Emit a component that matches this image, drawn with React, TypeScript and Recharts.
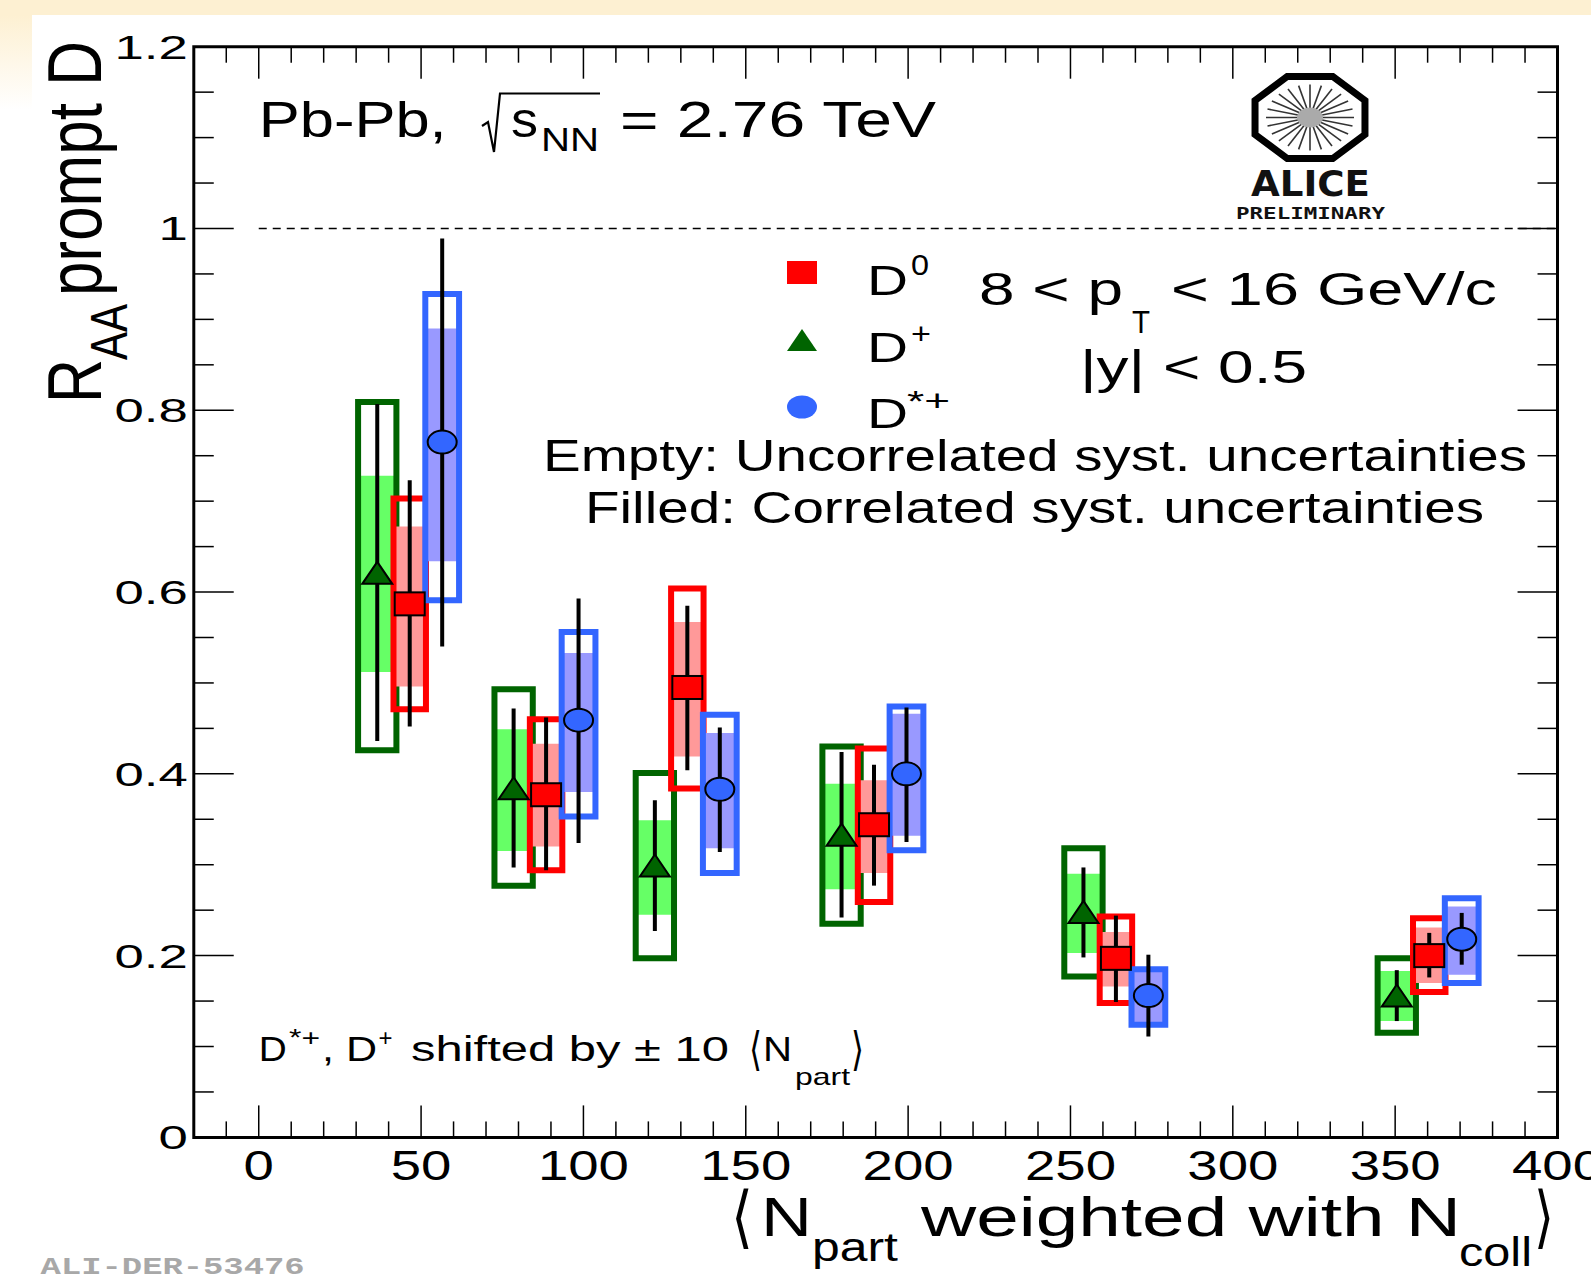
import React from 'react';
import { ComposedChart, Scatter, XAxis, YAxis, ReferenceArea, ReferenceLine, ErrorBar } from 'recharts';

// ---------------- data ----------------
const xDomain = [-20, 400];
const yDomain = [0, 1.2];
const xTicksMajor = [0, 50, 100, 150, 200, 250, 300, 350, 400];
const xTicksMinor = [-10, 10, 20, 30, 40, 60, 70, 80, 90, 110, 120, 130, 140, 160, 170, 180, 190, 210, 220, 230, 240, 260, 270, 280, 290, 310, 320, 330, 340, 360, 370, 380, 390];
const yTicksMajor = [0, 0.2, 0.4, 0.6, 0.8, 1, 1.2];
const yTicksMinor = [0.05, 0.1, 0.15, 0.25, 0.3, 0.35, 0.45, 0.5, 0.55, 0.65, 0.7, 0.75, 0.85, 0.9, 0.95, 1.05, 1.1, 1.15];

// D+ (shifted -10)
const dplusNpart = [36.5, 78.5, 122, 179.5, 254, 350.5];
const dplusRaa = [0.62, 0.383, 0.298, 0.332, 0.247, 0.155];
const dplusStatLo = [0.436, 0.297, 0.227, 0.242, 0.198, 0.128];
const dplusStatHi = [0.807, 0.472, 0.371, 0.424, 0.297, 0.184];
const dplusUncLo = [0.426, 0.277, 0.197, 0.235, 0.177, 0.115];
const dplusUncHi = [0.809, 0.493, 0.401, 0.43, 0.318, 0.197];
const dplusCorLo = [0.512, 0.315, 0.245, 0.273, 0.203, 0.128];
const dplusCorHi = [0.728, 0.449, 0.349, 0.389, 0.29, 0.183];

// D0
const d0Npart = [46.5, 88.5, 132, 189.5, 264, 360.5];
const d0Raa = [0.587, 0.377, 0.495, 0.344, 0.197, 0.2];
const d0StatLo = [0.452, 0.294, 0.404, 0.277, 0.149, 0.176];
const d0StatHi = [0.723, 0.462, 0.585, 0.41, 0.244, 0.225];
const d0UncLo = [0.471, 0.294, 0.384, 0.259, 0.148, 0.16];
const d0UncHi = [0.703, 0.46, 0.604, 0.428, 0.243, 0.241];
const d0CorLo = [0.496, 0.32, 0.419, 0.291, 0.166, 0.17];
const d0CorHi = [0.672, 0.433, 0.567, 0.393, 0.226, 0.231];

// D*+ (shifted +10)
const dstarNpart = [56.5, 98.5, 142, 199.5, 274, 370.5];
const dstarRaa = [0.765, 0.459, 0.383, 0.4, 0.156, 0.218];
const dstarStatLo = [0.54, 0.324, 0.314, 0.325, 0.111, 0.19];
const dstarStatHi = [0.989, 0.593, 0.451, 0.473, 0.201, 0.247];
const dstarUncLo = [0.591, 0.353, 0.291, 0.316, 0.124, 0.17];
const dstarUncHi = [0.928, 0.556, 0.465, 0.474, 0.185, 0.263];
const dstarCorLo = [0.634, 0.38, 0.318, 0.332, 0.127, 0.179];
const dstarCorHi = [0.89, 0.533, 0.445, 0.466, 0.182, 0.254];

// ---------------- style ----------------
const FONT = '"Liberation Sans", Arial, Helvetica, sans-serif';
const W = 1591;
const H = 1276;
// tick lengths, expressed in axis units (ROOT-style inward ticks)
const X_TICK_MAJOR = 0.0352; // vertical tick on x axis, in y units
const X_TICK_MINOR = 0.0176;
const Y_TICK_MAJOR = 12.3; // horizontal tick on y axis, in x units
const Y_TICK_MINOR = 6.15;

const Tri = (p: any) => (
  <polygon
    points={`${p.cx - 15},${p.cy + 10} ${p.cx + 15},${p.cy + 10} ${p.cx},${p.cy - 12}`}
    fill="#006400" stroke="#000" strokeWidth={2}
  />
);
const Sq = (p: any) => (
  <rect x={p.cx - 15} y={p.cy - 11.5} width={30} height={23} fill="#ff0000" stroke="#000" strokeWidth={2} />
);
const Circ = (p: any) => (
  <ellipse cx={p.cx} cy={p.cy} rx={14.5} ry={11.5} fill="#3366ff" stroke="#000" strokeWidth={2} />
);

function mk(x: number[], v: number[], lo: number[], hi: number[]) {
  return x.map((xx, i) => ({ x: xx, y: v[i], err: [v[i] - lo[i], hi[i] - v[i]] }));
}

const species = [
  { key: 'dplus', x: dplusNpart, v: dplusRaa, sLo: dplusStatLo, sHi: dplusStatHi, uLo: dplusUncLo, uHi: dplusUncHi, cLo: dplusCorLo, cHi: dplusCorHi, hw: 5.9, line: '#006400', fill: '#66ff66', shape: Tri },
  { key: 'd0', x: d0Npart, v: d0Raa, sLo: d0StatLo, sHi: d0StatHi, uLo: d0UncLo, uHi: d0UncHi, cLo: d0CorLo, cHi: d0CorHi, hw: 5.0, line: '#ff0000', fill: '#ff9999', shape: Sq },
  { key: 'dstar', x: dstarNpart, v: dstarRaa, sLo: dstarStatLo, sHi: dstarStatHi, uLo: dstarUncLo, uHi: dstarUncHi, cLo: dstarCorLo, cHi: dstarCorHi, hw: 5.2, line: '#3366ff', fill: '#9999ff', shape: Circ },
];

const XTick = (p: any) => (
  <text transform={`translate(${p.x},${p.y + 42.6}) scale(1.3,1)`} textAnchor="middle" fontSize={42} fontFamily={FONT} fill="#000">
    {String(p.payload.value)}
  </text>
);
const YTick = (p: any) => (
  <text transform={`translate(${p.x},${p.y + 12}) scale(1.55,1)`} textAnchor="end" fontSize={34} fontFamily={FONT} fill="#000">
    {String(p.payload.value)}
  </text>
);

type TP = { x: number; y: number; s: number; t: string; w?: number; sx?: number; a?: 'start' | 'middle' | 'end'; fw?: any; fill?: string; ff?: string };
function T({ x, y, s, t, w, sx = 1, a = 'start', fw, fill = '#000', ff }: TP) {
  return (
    <text
      transform={`translate(${x},${y}) scale(${sx},1)`}
      fontSize={s}
      textAnchor={a}
      fontWeight={fw}
      fill={fill}
      fontFamily={ff || FONT}
      textLength={w ? w / sx : undefined}
      lengthAdjust={w ? 'spacingAndGlyphs' : undefined}
    >
      {t}
    </text>
  );
}

function Logo() {
  const cx = 1310, cy = 117.5;
  const oct = Array.from({ length: 8 }, (_, k) => {
    const a = ((22.5 + k * 45) * Math.PI) / 180;
    return `${cx + 59.5 * Math.cos(a)},${cy + 44.4 * Math.sin(a)}`;
  }).join(' ');
  const spokes = Array.from({ length: 24 }, (_, k) => {
    const a = (k * 15 * Math.PI) / 180;
    return (
      <line key={k} x1={cx + 6 * Math.cos(a)} y1={cy + 5 * Math.sin(a)} x2={cx + 44 * Math.cos(a)} y2={cy + 33 * Math.sin(a)} stroke="#333" strokeWidth={1.6} />
    );
  });
  return (
    <g>
      <polygon points={oct} fill="#fff" stroke="#000" strokeWidth={7} />
      {spokes}
      <ellipse cx={cx} cy={cy} rx={13} ry={10} fill="#aaa" />
      <T x={1251} y={196} s={36} t="ALICE" w={119} fw="bold" fill="#111" ff='"DejaVu Sans", sans-serif' />
      <T x={1236} y={219} s={15} t="PRELIMINARY" w={149} fw="bold" fill="#111" ff='"DejaVu Sans Mono", monospace' />
    </g>
  );
}

const tickProps = { xAxisId: 'x', yAxisId: 'y', stroke: '#000', strokeWidth: 1.5, ifOverflow: 'visible' as const };

export default function App() {
  return (
    <div style={{ position: 'absolute', left: 0, top: 0, width: W, height: H, background: '#fff', overflow: 'hidden' }}>
      <svg width={W} height={H} style={{ position: 'absolute', left: 0, top: 0 }}>
        <defs>
          <linearGradient id="lg" x1="0" y1="0" x2="0" y2="1">
            <stop offset="0" stopColor="#fdf0d2" />
            <stop offset="1" stopColor="#ffffff" />
          </linearGradient>
        </defs>
        <rect x={0} y={0} width={W} height={15} fill="#fdf0d2" />
        <rect x={0} y={15} width={32} height={95} fill="url(#lg)" />
      </svg>
      <div style={{ position: 'absolute', left: 0, top: 0 }}>
        <ComposedChart width={W} height={H} margin={{ top: 46.7, right: 33.5, bottom: 88.6, left: 133.8 }}>
          <XAxis xAxisId="x" dataKey="x" type="number" domain={xDomain} ticks={xTicksMajor} interval={0} allowDataOverflow height={50} tickLine={false} axisLine={false} tickSize={0} tickMargin={0} tick={<XTick />} />
          <YAxis yAxisId="y" dataKey="y" type="number" domain={yDomain} ticks={yTicksMajor} interval={0} allowDataOverflow width={60} tickLine={false} axisLine={false} tickSize={0} tickMargin={6} tick={<YTick />} />

          {/* inward ticks on all four sides */}
          {xTicksMajor.map((t) => (
            <ReferenceLine key={'xbM' + t} {...tickProps} segment={[{ x: t, y: yDomain[0] }, { x: t, y: yDomain[0] + X_TICK_MAJOR }]} />
          ))}
          {xTicksMinor.map((t) => (
            <ReferenceLine key={'xbm' + t} {...tickProps} segment={[{ x: t, y: yDomain[0] }, { x: t, y: yDomain[0] + X_TICK_MINOR }]} />
          ))}
          {xTicksMajor.map((t) => (
            <ReferenceLine key={'xtM' + t} {...tickProps} segment={[{ x: t, y: yDomain[1] }, { x: t, y: yDomain[1] - X_TICK_MAJOR }]} />
          ))}
          {xTicksMinor.map((t) => (
            <ReferenceLine key={'xtm' + t} {...tickProps} segment={[{ x: t, y: yDomain[1] }, { x: t, y: yDomain[1] - X_TICK_MINOR }]} />
          ))}
          {yTicksMajor.map((t) => (
            <ReferenceLine key={'ylM' + t} {...tickProps} segment={[{ x: xDomain[0], y: t }, { x: xDomain[0] + Y_TICK_MAJOR, y: t }]} />
          ))}
          {yTicksMinor.map((t) => (
            <ReferenceLine key={'ylm' + t} {...tickProps} segment={[{ x: xDomain[0], y: t }, { x: xDomain[0] + Y_TICK_MINOR, y: t }]} />
          ))}
          {yTicksMajor.map((t) => (
            <ReferenceLine key={'yrM' + t} {...tickProps} segment={[{ x: xDomain[1], y: t }, { x: xDomain[1] - Y_TICK_MAJOR, y: t }]} />
          ))}
          {yTicksMinor.map((t) => (
            <ReferenceLine key={'yrm' + t} {...tickProps} segment={[{ x: xDomain[1], y: t }, { x: xDomain[1] - Y_TICK_MINOR, y: t }]} />
          ))}

          <ReferenceArea xAxisId="x" yAxisId="y" x1={xDomain[0]} x2={xDomain[1]} y1={yDomain[0]} y2={yDomain[1]} fill="none" fillOpacity={0} stroke="#000" strokeWidth={3} ifOverflow="visible" />
          <ReferenceLine xAxisId="x" yAxisId="y" segment={[{ x: 0, y: 1 }, { x: 400, y: 1 }]} stroke="#000" strokeWidth={1.5} strokeDasharray="8 6" />

          {species.map((sp) => (
            <React.Fragment key={sp.key}>
              {sp.x.map((x, i) => (
                <ReferenceArea key={sp.key + 'c' + i} xAxisId="x" yAxisId="y" x1={x - sp.hw} x2={x + sp.hw} y1={sp.cLo[i]} y2={sp.cHi[i]} fill={sp.fill} fillOpacity={1} stroke="none" ifOverflow="visible" />
              ))}
              {sp.x.map((x, i) => (
                <ReferenceArea key={sp.key + 'u' + i} xAxisId="x" yAxisId="y" x1={x - sp.hw} x2={x + sp.hw} y1={sp.uLo[i]} y2={sp.uHi[i]} fill="none" fillOpacity={0} stroke={sp.line} strokeWidth={6} ifOverflow="visible" />
              ))}
            </React.Fragment>
          ))}
          {species.map((sp) => (
            <Scatter key={sp.key + 's'} xAxisId="x" yAxisId="y" data={mk(sp.x, sp.v, sp.sLo, sp.sHi)} dataKey="y" shape={sp.shape} isAnimationActive={false}>
              <ErrorBar dataKey="err" direction="y" width={0} strokeWidth={4} stroke="#000" isAnimationActive={false} />
            </Scatter>
          ))}
        </ComposedChart>
      </div>
      <svg width={W} height={H} style={{ position: 'absolute', left: 0, top: 0, pointerEvents: 'none' }}>
        {/* Y axis title */}
        <text transform="translate(101,403) scale(1.28,1) rotate(-90)" fontSize={60} fontFamily={FONT} textLength={44} lengthAdjust="spacingAndGlyphs">R</text>
        <text transform="translate(127,360) scale(1.28,1) rotate(-90)" fontSize={40} fontFamily={FONT} textLength={56} lengthAdjust="spacingAndGlyphs">AA</text>
        <text transform="translate(101,296) scale(1.28,1) rotate(-90)" fontSize={60} fontFamily={FONT} textLength={255} lengthAdjust="spacingAndGlyphs">prompt D</text>

        {/* X axis title */}
        <T x={731} y={1240} s={68} t="⟨" w={22} ff='"DejaVu Sans", sans-serif' />
        <T x={761} y={1236} s={55} t="N" w={51} />
        <T x={812} y={1261} s={40} t="part" w={86} />
        <T x={921} y={1236} s={55} t="weighted with N" w={540} />
        <T x={1459} y={1266} s={40} t="coll" w={73} />
        <T x={1534} y={1240} s={68} t="⟩" w={20} ff='"DejaVu Sans", sans-serif' />

        {/* System label */}
        <T x={258.7} y={137} s={50} t="Pb-Pb," w={188} />
        <path d="M482 126 L488 122 L494 152 L500 93.5 L600 93.5" fill="none" stroke="#000" strokeWidth={2.2} />
        <T x={511} y={137} s={50} t="s" w={27} />
        <T x={541} y={151} s={33} t="NN" w={58} />
        <T x={620} y={137} s={50} t="= 2.76 TeV" w={316} />

        <Logo />

        {/* Legend */}
        <rect x={787} y={261} width={30} height={23} fill="#ff0000" />
        <polygon points="787,351 817,351 802,329" fill="#006400" />
        <ellipse cx={802} cy={407} rx={15} ry={11.5} fill="#3366ff" />
        <T x={867} y={295} s={43} t="D" w={41} />
        <T x={911} y={275} s={30} t="0" w={18} />
        <T x={867} y={362} s={43} t="D" w={41} />
        <T x={911} y={344} s={30} t="+" w={20} />
        <T x={867} y={428} s={43} t="D" w={41} />
        <T x={907} y={411} s={30} t="*+" w={43} />

        <T x={979} y={305} s={46} t="8 < p" w={144} />
        <T x={1132} y={333} s={32} t="T" w={18} />
        <T x={1171} y={305} s={46} t="< 16 GeV/c" w={326} />
        <T x={1080} y={383} s={46} t="|y| < 0.5" w={227} />
        <T x={543} y={471} s={44} t="Empty: Uncorrelated syst. uncertainties" w={984} />
        <T x={585} y={523} s={44} t="Filled: Correlated syst. uncertainties" w={899} />

        {/* shift note */}
        <T x={258.7} y={1061} s={35} t="D" w={28} />
        <T x={289} y={1046} s={23} t="*+" w={31} />
        <T x={322} y={1061} s={35} t=", D" w={55} />
        <T x={378.5} y={1046} s={23} t="+" w={14} />
        <T x={411} y={1061} s={35} t="shifted by ± 10" w={318} />
        <T x={749} y={1065} s={46} t="⟨" w={13} ff='"DejaVu Sans", sans-serif' />
        <T x={763} y={1061} s={35} t="N" w={29} />
        <T x={795} y={1085} s={24} t="part" w={55} />
        <T x={851} y={1065} s={46} t="⟩" w={13} ff='"DejaVu Sans", sans-serif' />

        <T x={40.6} y={1274} s={24} t="ALI-DER-53476" w={264} fw="bold" fill="#a8a8a8" ff='"Liberation Mono", "DejaVu Sans Mono", monospace' />
      </svg>
    </div>
  );
}
